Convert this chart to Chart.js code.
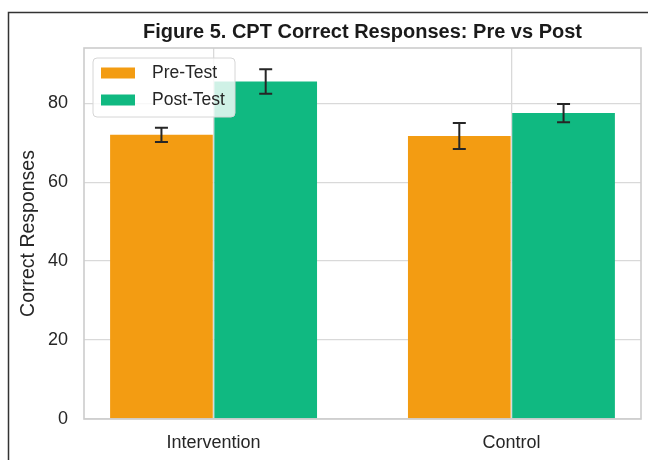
<!DOCTYPE html>
<html><head><meta charset="utf-8">
<script src="https://cdn.jsdelivr.net/npm/chart.js@4"></script>
<style>html,body{margin:0;padding:0;background:#fff}</style>
</head><body>
<canvas id="c" width="648" height="460"></canvas>
<script>
const categories = ['Intervention', 'Control'];
const seriesNames = ['Pre-Test', 'Post-Test'];
const preValues = [72.0, 71.7];
const postValues = [85.5, 77.5];
const preErrors = [1.8, 3.3];
const postErrors = [3.1, 2.3];
const yTicks = [0, 20, 40, 60, 80];
const titleText = 'Figure 5. CPT Correct Responses: Pre vs Post';
const yLabel = 'Correct Responses';

const colors = ['#f39c12', '#10b981'];
const groupOffsets = [-0.175, 0.175];
const seriesValues = [preValues, postValues];
const seriesErrors = [preErrors, postErrors];
const FONT = "'Liberation Sans', Arial, sans-serif";

const datasets = seriesNames.map((name, s) => ({
  label: name,
  data: categories.map((c, i) => ({ x: i + groupOffsets[s], y: seriesValues[s][i] })),
  backgroundColor: colors[s],
  borderWidth: 0,
  grouped: false,
  categoryPercentage: 1,
  barPercentage: 0.985,
  errors: seriesErrors[s]
}));

const framePlugin = {
  id: 'frame',
  beforeDraw(chart) {
    const ctx = chart.ctx;
    ctx.save();
    ctx.fillStyle = '#fff';
    ctx.fillRect(0, 0, chart.width, chart.height);
    ctx.strokeStyle = '#333';
    ctx.lineWidth = 1.5;
    ctx.beginPath();
    ctx.moveTo(chart.width, 12.5);
    ctx.lineTo(8.5, 12.5);
    ctx.lineTo(8.5, chart.height);
    ctx.stroke();
    ctx.restore();
  }
};

const overlayPlugin = {
  id: 'overlay',
  afterDatasetsDraw(chart) {
    const ctx = chart.ctx;
    const a = chart.chartArea;
    const yScale = chart.scales.y;
    ctx.save();
    // plot box
    ctx.strokeStyle = '#cccccc';
    ctx.lineWidth = 1.6;
    ctx.strokeRect(a.left, a.top, a.right - a.left, a.bottom - a.top);
    // error bars
    ctx.strokeStyle = '#262626';
    ctx.lineWidth = 2;
    chart.data.datasets.forEach((ds, di) => {
      const meta = chart.getDatasetMeta(di);
      meta.data.forEach((el, j) => {
        const v = ds.data[j].y, e = ds.errors[j];
        const x = el.x;
        const y1 = yScale.getPixelForValue(v - e);
        const y2 = yScale.getPixelForValue(v + e);
        const cap = 6.5;
        ctx.beginPath();
        ctx.moveTo(x, y1); ctx.lineTo(x, y2);
        ctx.moveTo(x - cap, y1); ctx.lineTo(x + cap, y1);
        ctx.moveTo(x - cap, y2); ctx.lineTo(x + cap, y2);
        ctx.stroke();
      });
    });
    // legend
    const bx = a.left + 9, by = a.top + 10, bw = 142, bh = 59, r = 4;
    ctx.beginPath();
    ctx.moveTo(bx + r, by);
    ctx.lineTo(bx + bw - r, by); ctx.quadraticCurveTo(bx + bw, by, bx + bw, by + r);
    ctx.lineTo(bx + bw, by + bh - r); ctx.quadraticCurveTo(bx + bw, by + bh, bx + bw - r, by + bh);
    ctx.lineTo(bx + r, by + bh); ctx.quadraticCurveTo(bx, by + bh, bx, by + bh - r);
    ctx.lineTo(bx, by + r); ctx.quadraticCurveTo(bx, by, bx + r, by);
    ctx.closePath();
    ctx.fillStyle = 'rgba(255,255,255,0.8)';
    ctx.fill();
    ctx.strokeStyle = '#d6d6d6';
    ctx.lineWidth = 1;
    ctx.stroke();
    ctx.font = '17.5px ' + FONT;
    ctx.textBaseline = 'middle';
    ctx.textAlign = 'left';
    chart.data.datasets.forEach((ds, di) => {
      const cy = by + 15 + di * 27;
      ctx.fillStyle = ds.backgroundColor;
      ctx.fillRect(bx + 8, cy - 5.5, 34, 11);
      ctx.fillStyle = '#262626';
      ctx.fillText(ds.label, bx + 59, cy);
    });
    ctx.restore();
  }
};

new Chart(document.getElementById('c'), {
  type: 'bar',
  data: { datasets },
  plugins: [framePlugin, overlayPlugin],
  options: {
    responsive: false,
    animation: false,
    devicePixelRatio: 1,
    layout: { padding: { left: 9, right: 7, top: 12, bottom: 0 } },
    plugins: {
      legend: { display: false },
      tooltip: { enabled: false },
      title: {
        display: true,
        text: titleText,
        fullSize: false,
        color: '#1a1a1a',
        font: { family: FONT, size: 20, weight: 'bold' },
        padding: { top: 8, bottom: 4 }
      }
    },
    scales: {
      x: {
        type: 'linear',
        min: -0.435,
        max: 1.435,
        offset: false,
        afterBuildTicks(scale) { scale.ticks = categories.map((c, i) => ({ value: i })); },
        afterFit(scale) { scale.height = 41; },
        ticks: {
          padding: 13,
          color: '#262626',
          font: { family: FONT, size: 18 },
          maxRotation: 0,
          autoSkip: false,
          callback: (v) => categories[Math.round(v)]
        },
        grid: { color: '#d9d9d9', lineWidth: 1.3, drawTicks: false, offset: false },
        border: { display: false }
      },
      y: {
        min: 0,
        max: 94,
        afterBuildTicks(scale) { scale.ticks = yTicks.map(v => ({ value: v })); },
        afterFit(scale) { scale.width = 75; },
        ticks: {
          padding: 16,
          color: '#262626',
          font: { family: FONT, size: 18 }
        },
        grid: { color: '#d9d9d9', lineWidth: 1.3, drawTicks: false },
        border: { display: false },
        title: {
          display: true,
          text: yLabel,
          color: '#262626',
          font: { family: FONT, size: 19.5 },
          padding: { top: 8, bottom: 0 }
        }
      }
    }
  }
});
</script>
</body></html>
